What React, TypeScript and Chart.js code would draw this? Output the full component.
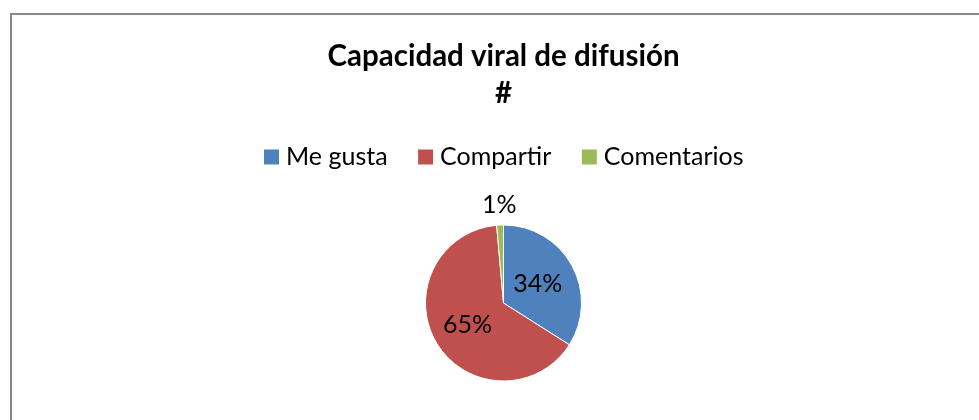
import React, { useEffect, useRef } from "react";
import { Chart, registerables } from "chart.js";

Chart.register(...registerables);

const categories = ["Me gusta", "Compartir", "Comentarios"];
const values = [34, 64.6, 1.4];
const colors = ["#4F81BD", "#C0504D", "#9BBB59"];
const titleText = "Capacidad viral de difusión";
const subtitleText = "#";

const FONT = "Lato, 'Open Sans', sans-serif";

const pieLabels = {
  id: "pieLabels",
  afterDatasetsDraw(chart: any) {
    const ctx = chart.ctx;
    const meta = chart.getDatasetMeta(0);
    const data = chart.data.datasets[0].data as number[];
    const total = data.reduce((a, b) => a + b, 0);
    ctx.save();
    ctx.font = `25px ${FONT}`;
    ctx.fillStyle = "#000";
    ctx.textAlign = "center";
    ctx.textBaseline = "middle";
    meta.data.forEach((arc: any, i: number) => {
      const { x, y, startAngle, endAngle, outerRadius } = arc.getProps(
        ["x", "y", "startAngle", "endAngle", "outerRadius"],
        true
      );
      const pct = data[i] / total;
      const mid = (startAngle + endAngle) / 2;
      const r = pct < 0.05 ? outerRadius + 20 : outerRadius * (pct > 0.5 ? 0.54 : 0.5);
      ctx.fillText(Math.round(pct * 100) + "%", x + Math.cos(mid) * r, y + Math.sin(mid) * r);
    });
    ctx.restore();
  },
};

// nudge the legend row slightly to the right, like the original layout
const legendShift = {
  id: "legendShift",
  afterLayout(chart: any) {
    if (chart.legend) {
      chart.legend.left += 3;
      chart.legend.right += 3;
    }
  },
};

export default function App() {
  const ref = useRef<HTMLCanvasElement | null>(null);

  useEffect(() => {
    if (!ref.current) return;
    const chart = new Chart(ref.current, {
      type: "pie",
      data: {
        labels: categories,
        datasets: [
          {
            data: values,
            backgroundColor: colors,
            borderColor: "#ffffff",
            borderWidth: 1,
          },
        ],
      },
      options: {
        responsive: false,
        animation: false,
        devicePixelRatio: 1,
        radius: 78,
        layout: { padding: { top: 0, bottom: 13.5, left: 0, right: 0 } },
        plugins: {
          title: {
            display: true,
            text: titleText,
            color: "#000",
            font: { family: FONT, size: 29.5, weight: "bold", lineHeight: 1.2 },
            padding: { top: 38.3, bottom: 0 },
          },
          subtitle: {
            display: true,
            text: subtitleText,
            color: "#000",
            font: { family: FONT, size: 29.5, weight: "bold", lineHeight: 1.0 },
            padding: { top: 4.55, bottom: 0.75 },
          },
          legend: {
            display: true,
            position: "top",
            labels: {
              usePointStyle: true,
              pointStyle: "rect",
              boxWidth: 4,
              boxHeight: 16,
              padding: 36,
              color: "#000",
              font: { family: FONT, size: 25 },
            },
          },
          tooltip: { enabled: false },
        },
      } as any,
      plugins: [pieLabels, legendShift],
    });
    return () => chart.destroy();
  }, []);

  return (
    <div
      style={{
        position: "fixed",
        left: 0,
        top: 0,
        width: 979,
        height: 420,
        overflow: "hidden",
        background: "#fff",
      }}
    >
      <div
        style={{
          position: "absolute",
          left: 10,
          top: 13,
          width: 1100,
          height: 500,
          border: "2px solid #888",
          boxSizing: "border-box",
        }}
      />
      <canvas
        ref={ref}
        width={1007}
        height={440}
        style={{ position: "absolute", left: 0, top: 0, width: 1007, height: 440 }}
      />
    </div>
  );
}
